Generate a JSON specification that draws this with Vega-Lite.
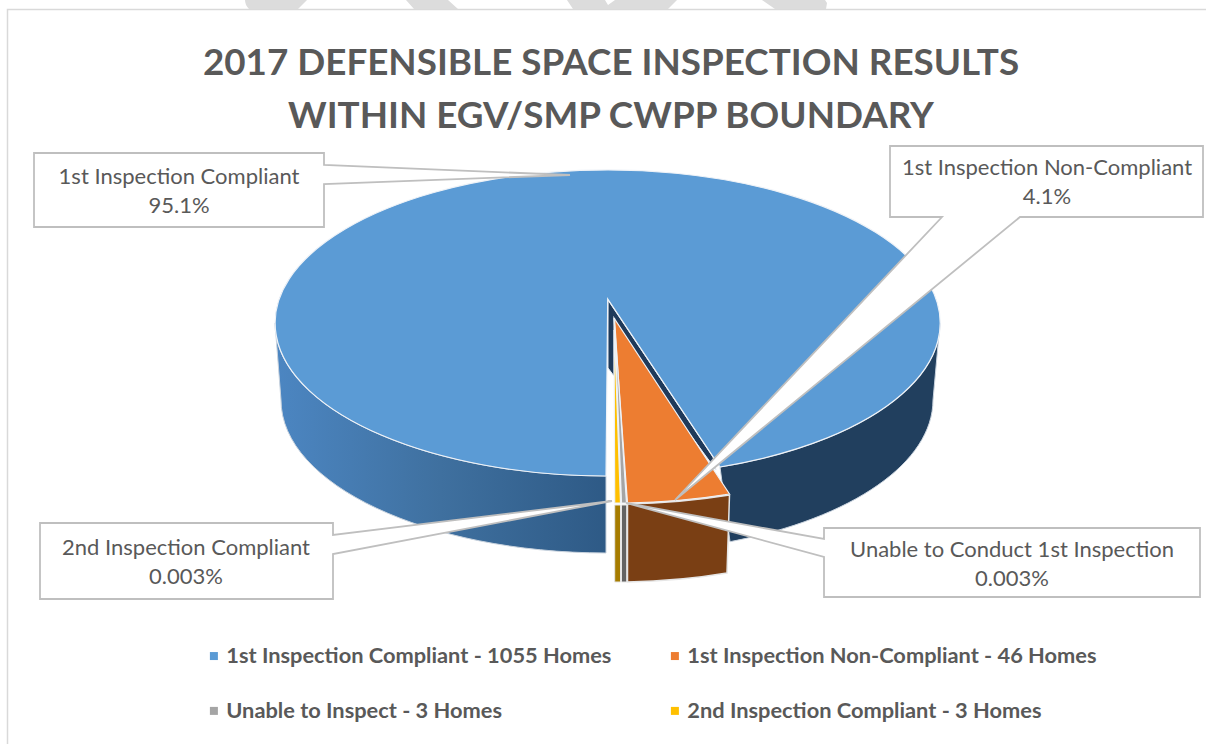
{
"$schema":"https://vega.github.io/schema/vega-lite/v6.json",
"width":1206,"height":744,"padding":0,"autosize":{"type":"none"},
"background":"white",
"view":{"stroke":null},
"title":{"text":["2017 DEFENSIBLE SPACE INSPECTION RESULTS","WITHIN EGV/SMP CWPP BOUNDARY"],"font":"Lato","fontWeight":"bold","fontSize":36.8,"color":"#595959","lineHeight":53,"anchor":"middle","baseline":"middle","offset":0,"dx":8,"dy":154},
"datasets":{"slices":[
{"legend":"1st Inspection Compliant - 1055 Homes","homes":1055,"callout":"1st Inspection Compliant\n95.1%"},
{"legend":"1st Inspection Non-Compliant - 46 Homes","homes":46,"callout":"1st Inspection Non-Compliant\n4.1%"},
{"legend":"Unable to Inspect - 3 Homes","homes":3,"callout":"Unable to Conduct 1st Inspection\n0.003%"},
{"legend":"2nd Inspection Compliant - 3 Homes","homes":3,"callout":"2nd Inspection Compliant\n0.003%"}
]},
"data":{"name":"slices"},
"resolve":{"scale":{"shape":"independent"}},
"layer":[
{"data":{"values":[{"part":"watermark"}]},"mark":{"type":"point","filled":true,"opacity":1,"fill":"#dcdcdc","strokeWidth":0},"encoding":{"x":{"value":0},"y":{"value":0},"size":{"value":4},"shape":{"value":"M245,0 H307 L298,9 H249 Q245,5 245,0 Z M406,0 H448 L458,9 H414 Z M567,0 H605 L608,5 L615,0 H677 L668,9 H573 Z M762,0 H825 L827,3 L826,9 H775 Z"}}},
{"data":{"values":[{"part":"frame"}]},"mark":{"type":"point","filled":false,"opacity":1,"stroke":"#d9d9d9","strokeWidth":1.5},"encoding":{"x":{"value":0},"y":{"value":0},"size":{"value":4},"shape":{"value":"M7.5,744 V9.5 H1206"}}},
{"transform":[{"filter":"datum.homes == 1055"}],"mark":{"type":"point","filled":true,"opacity":1,"stroke":"#c9d3de","strokeWidth":1},"encoding":{"x":{"value":0},"y":{"value":0},"size":{"value":4},"fill":{"value":{"x1":0,"y1":0,"x2":1,"y2":0,"gradient":"linear","stops":[{"offset":0,"color":"#4c86c2"},{"offset":0.5,"color":"#3f709f"},{"offset":1,"color":"#2e5a86"}]}},"shape":{"value":"M275,323 A332.5,153 0 0 0 606,476 L606,553 A326,153 0 0 1 281,400 Z"}}},
{"transform":[{"filter":"datum.homes == 1055"}],"mark":{"type":"point","filled":true,"opacity":1,"stroke":"#c9d3de","strokeWidth":1},"encoding":{"x":{"value":0},"y":{"value":0},"size":{"value":4},"fill":{"value":"#213f5e"},"shape":{"value":"M720,467 A332.5,153 0 0 0 940,323 L933,400 A326,153 0 0 1 730,541.7 Z"}}},
{"transform":[{"filter":"datum.homes == 1055"}],"mark":{"type":"point","filled":true,"opacity":1,"stroke":"#e8eef5","strokeWidth":1},"encoding":{"x":{"value":0},"y":{"value":0},"size":{"value":4},"fill":{"value":"#1f3a5a"},"shape":{"value":"M608,300 L713,457 L716,470 L614,330 L614,376 L608,368 Z"}}},
{"transform":[{"filter":"datum.homes == 46"}],"mark":{"type":"point","filled":true,"opacity":1,"stroke":"#e6e6e6","strokeWidth":1.5},"encoding":{"x":{"value":0},"y":{"value":0},"size":{"value":4},"fill":{"value":"#7a3f14"},"shape":{"value":"M627.5,504 Q680,503 729.5,495 L727,573 Q680,581 627.5,582 Z"}}},
{"transform":[{"filter":"indexof(datum.legend, 'Unable') == 0"}],"mark":{"type":"point","filled":true,"opacity":1,"stroke":"#e6e6e6","strokeWidth":1},"encoding":{"x":{"value":0},"y":{"value":0},"size":{"value":4},"fill":{"value":"#636363"},"shape":{"value":"M621.5,505 H626.7 V582 H621.5 Z"}}},
{"transform":[{"filter":"indexof(datum.legend, '2nd') == 0"}],"mark":{"type":"point","filled":true,"opacity":1,"stroke":"#e6e6e6","strokeWidth":1},"encoding":{"x":{"value":0},"y":{"value":0},"size":{"value":4},"fill":{"value":"#a67c00"},"shape":{"value":"M614.7,505 H620.5 V582 H614.7 Z"}}},
{"mark":{"type":"point","filled":true,"opacity":1,"stroke":"#eef2f7","strokeWidth":1.2},"encoding":{"x":{"value":0},"y":{"value":0},"size":{"value":4},
"fill":{"field":"legend","type":"nominal","sort":null,"scale":{"domain":["1st Inspection Compliant - 1055 Homes","Unable to Inspect - 3 Homes","1st Inspection Non-Compliant - 46 Homes","2nd Inspection Compliant - 3 Homes"],"range":["#5b9bd5","#a5a5a5","#ed7d31","#ffc000"]},
"legend":{"title":null,"orient":"none","legendX":203,"legendY":645,"columns":2,"gridAlign":"each","symbolType":"square","symbolSize":64,"symbolStrokeWidth":0,"symbolOpacity":1,"labelFont":"Lato","labelFontWeight":"bold","labelFontSize":21.8,"labelColor":"#595959","labelOffset":1.5,"labelLimit":500,"rowPadding":32,"columnPadding":52}},
"shape":{"field":"legend","type":"nominal","sort":null,"legend":null,"scale":{"domain":["1st Inspection Compliant - 1055 Homes","1st Inspection Non-Compliant - 46 Homes","Unable to Inspect - 3 Homes","2nd Inspection Compliant - 3 Homes"],"range":["M607.7,299 L606,476 A332.5,153 0 1 1 720,467 Z","M614,318 L627.5,503 Q680,502 729.5,494 Z","M614.5,318 L621.5,503 L626.5,503 Z","M614,318 L614.7,503 L620.5,503 Z"]}}}},
{"mark":{"type":"point","filled":true,"opacity":1,"fill":"white","stroke":"#bfbfbf","strokeWidth":1.8},"encoding":{"x":{"value":0},"y":{"value":0},"size":{"value":4},
"shape":{"field":"callout","type":"nominal","sort":null,"legend":null,"scale":{"domain":["1st Inspection Compliant\n95.1%","1st Inspection Non-Compliant\n4.1%","Unable to Conduct 1st Inspection\n0.003%","2nd Inspection Compliant\n0.003%"],"range":["M34,153 H324 V165 L570,175 L324,184 V227 H34 Z","M890,146 H1203 V217 H1020 L675,500 L942,217 H890 Z","M824,528 H1200 V597 H824 V557 L626,503 L824,539 Z","M40,523 H333 V535 L612,501 L333,554 V599 H40 Z"]}}}},
{"transform":[{"filter":"datum.homes == 1055"}],"mark":{"type":"text","font":"Lato","fontSize":22,"color":"#595959","lineBreak":"\n","lineHeight":29,"align":"center","baseline":"middle"},"encoding":{"x":{"value":179},"y":{"value":177},"text":{"field":"callout"}}},
{"transform":[{"filter":"datum.homes == 46"}],"mark":{"type":"text","font":"Lato","fontSize":22,"color":"#595959","lineBreak":"\n","lineHeight":29,"align":"center","baseline":"middle"},"encoding":{"x":{"value":1047},"y":{"value":168},"text":{"field":"callout"}}},
{"transform":[{"filter":"indexof(datum.legend, 'Unable') == 0"}],"mark":{"type":"text","font":"Lato","fontSize":22,"color":"#595959","lineBreak":"\n","lineHeight":29,"align":"center","baseline":"middle"},"encoding":{"x":{"value":1012},"y":{"value":550},"text":{"field":"callout"}}},
{"transform":[{"filter":"indexof(datum.legend, '2nd') == 0"}],"mark":{"type":"text","font":"Lato","fontSize":22,"color":"#595959","lineBreak":"\n","lineHeight":29,"align":"center","baseline":"middle"},"encoding":{"x":{"value":186},"y":{"value":548},"text":{"field":"callout"}}}
]
}
